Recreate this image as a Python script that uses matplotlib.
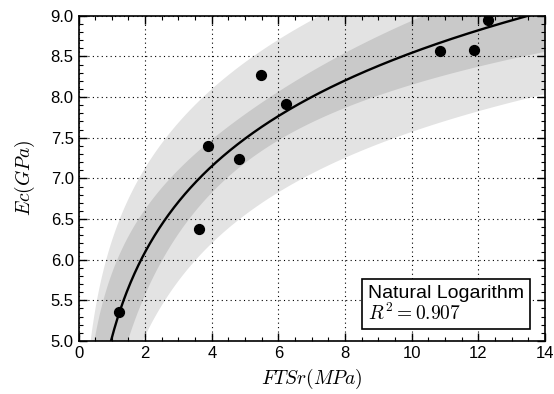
import numpy as np
from matplotlib import pyplot as plt
from matplotlib.ticker import MultipleLocator

fts_r = [1.22, 3.62, 3.89, 4.82, 5.49, 6.24, 10.84, 11.88, 12.30]
ec = [5.36, 6.38, 7.40, 7.24, 8.27, 7.92, 8.57, 8.58, 8.95]
legend_title = "Natural Logarithm"
r2_label = "0.907"

# Student t, 97.5% quantile, 7 degrees of freedom (n - 2)
T_975 = 2.365

plt.rcParams["font.family"] = ["Liberation Sans", "DejaVu Sans"]
plt.rcParams["mathtext.fontset"] = "cm"


def log_fit(x, y):
    lx = np.log(x)
    b, a = np.polyfit(lx, y, 1)
    resid = y - (a + b * lx)
    s = np.sqrt(np.sum(resid ** 2) / (len(x) - 2))
    return a, b, s, lx.mean(), np.sum((lx - lx.mean()) ** 2)


def main():
    x = np.array(fts_r)
    y = np.array(ec)
    a, b, s, lx_mean, sxx = log_fit(x, y)
    n = len(x)

    xs = np.linspace(0.05, 14, 600)
    lxs = np.log(xs)
    ys = a + b * lxs
    d2 = (lxs - lx_mean) ** 2 / sxx
    conf = T_975 * s * np.sqrt(1.0 / n + d2)
    pred = T_975 * s * np.sqrt(1.0 + 1.0 / n + d2)

    fig = plt.figure(figsize=(5.54, 3.94), dpi=100)
    ax = fig.add_axes([0.1417, 0.1345, 0.842, 0.8255])

    ax.fill_between(xs, ys - pred, ys + pred, color="#e3e3e3", lw=0, zorder=1)
    ax.fill_between(xs, ys - conf, ys + conf, color="#c9c9c9", lw=0, zorder=2)
    ax.plot(xs, ys, color="black", lw=1.7, zorder=4)
    ax.scatter(x, y, s=50, color="black", zorder=5)

    ax.set_xlim(0, 14)
    ax.set_ylim(5.0, 9.0)
    ax.xaxis.set_major_locator(MultipleLocator(2))
    ax.xaxis.set_minor_locator(MultipleLocator(0.5))
    ax.yaxis.set_major_locator(MultipleLocator(0.5))
    ax.yaxis.set_minor_locator(MultipleLocator(0.1))
    ax.yaxis.set_major_formatter(plt.FormatStrFormatter("%.1f"))
    ax.tick_params(which="both", direction="in", top=True, right=True, labelsize=12)
    ax.tick_params(which="major", length=6, width=1)
    ax.tick_params(which="minor", length=3, width=0.8)
    ax.grid(True, which="major", color="black", linestyle=(0, (1, 3)), lw=0.8, zorder=3)
    ax.set_axisbelow(False)
    for sp in ax.spines.values():
        sp.set_linewidth(1.2)
        sp.set_zorder(6)

    ax.set_xlabel(r"$FTSr(MPa)$", fontsize=14, labelpad=4)
    ax.set_ylabel(r"$Ec(GPa)$", fontsize=14, labelpad=10)

    ax.text(0.621, 0.066, legend_title + "\n" + r"$R^2 = " + r2_label + "$",
            transform=ax.transAxes, fontsize=14, linespacing=1.0, zorder=7,
            bbox=dict(boxstyle="square,pad=0.3", fc="white", ec="black", lw=1.2))

    fig.savefig("out.png", dpi=100)


if __name__ == "__main__":
    main()
